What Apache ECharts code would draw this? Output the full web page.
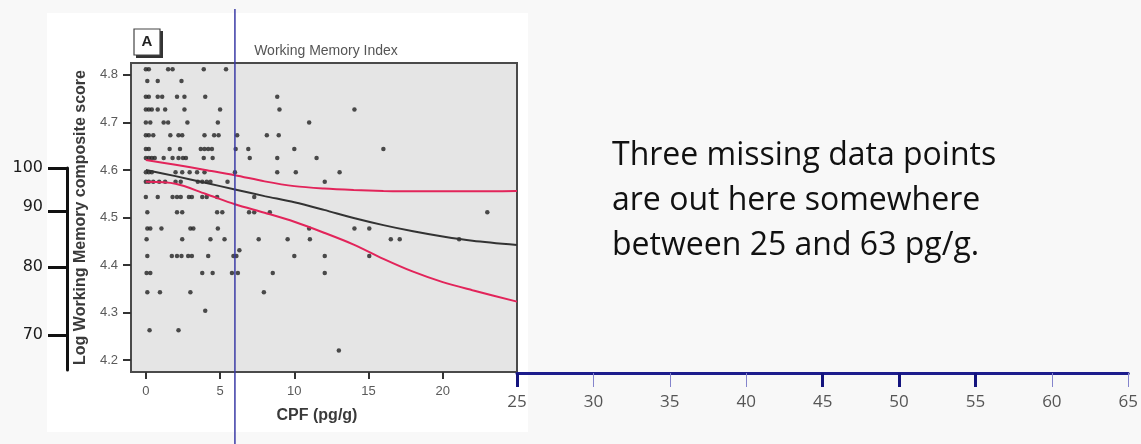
<!DOCTYPE html>
<html>
<head>
<meta charset="utf-8">
<script src="https://cdn.jsdelivr.net/npm/echarts@6/dist/echarts.min.js"></script>
<style>
  html, body { margin: 0; padding: 0; background: #f8f8f8; }
  #wrap { position: relative; width: 1141px; height: 444px; overflow: hidden; }
  #figbg { position: absolute; left: 47px; top: 13px; width: 481px; height: 419px; background: #ffffff; }
  #chart { position: absolute; left: 0; top: 0; width: 1141px; height: 444px; }
</style>
</head>
<body>
<div id="wrap">
  <div id="figbg"></div>
  <div id="chart"></div>
</div>
<script>
// ---- data ----
const logLevels = [4.812, 4.787, 4.754, 4.727, 4.700, 4.673, 4.644, 4.625, 4.595, 4.575,
                   4.543, 4.511, 4.477, 4.454, 4.431, 4.419, 4.383, 4.343, 4.304, 4.263, 4.220];
const cpfAtLevel = [
  [0, 0.2, 1.5, 1.8, 3.9, 5.4],
  [0.1, 0.8, 2.4],
  [0, 0.2, 0.8, 1.1, 2.1, 2.6, 4.0, 8.85],
  [0, 0.2, 0.4, 0.8, 1.3, 2.6, 5.0, 9.0, 14.05],
  [0, 0.3, 1.2, 1.5, 2.8, 4.85, 11.0],
  [0, 0.2, 0.5, 1.65, 2.2, 2.45, 3.95, 4.6, 4.9, 6.15, 8.15, 8.95],
  [0, 0.2, 1.6, 2.3, 3.7, 3.95, 4.2, 4.45, 6.05, 6.9, 10.0, 16.0],
  [0, 0.2, 0.4, 0.6, 1.2, 1.8, 2.2, 2.5, 2.7, 3.9, 4.5, 7.0, 8.85, 11.5],
  [0, 0.2, 0.4, 2.0, 2.45, 2.95, 3.45, 3.95, 6.0, 8.85, 10.1, 13.05],
  [0, 0.2, 0.5, 0.9, 1.3, 2.0, 2.35, 3.5, 3.8, 4.1, 4.35, 5.5, 12.05],
  [0, 0.8, 1.8, 2.1, 2.35, 2.9, 3.1, 3.8, 4.1, 4.8, 7.3],
  [0.1, 2.1, 2.45, 4.8, 5.15, 6.95, 7.3, 8.35, 23.0],
  [0.1, 0.3, 1.05, 3.0, 3.2, 4.85, 11.0, 14.05, 15.05],
  [0.05, 2.45, 4.35, 5.3, 7.6, 9.55, 11.05, 16.5, 17.1, 21.1],
  [6.3],
  [0.1, 1.75, 2.1, 2.4, 2.85, 3.1, 4.2, 5.9, 6.1, 10.0, 12.05, 15.05],
  [0.05, 0.3, 3.8, 4.5, 5.8, 6.2, 8.55, 12.05],
  [0.1, 0.95, 3.0, 7.95],
  [4.0],
  [0.25, 2.2],
  [13.0]
];
const fitX     = [0, 2, 4, 6, 8, 10, 12, 14, 16, 18, 20, 22, 25];
const fitY     = [4.600, 4.587, 4.573, 4.559, 4.545, 4.532, 4.516, 4.499, 4.484, 4.471, 4.460, 4.451, 4.442];
const upperY   = [4.621, 4.611, 4.600, 4.589, 4.576, 4.566, 4.561, 4.558, 4.556, 4.555, 4.555, 4.555, 4.556];
const lowerY   = [4.575, 4.571, 4.550, 4.528, 4.510, 4.491, 4.468, 4.443, 4.413, 4.386, 4.364, 4.347, 4.323];
const xTicksMain = [0, 5, 10, 15, 20];
const yTicksMain = [4.2, 4.3, 4.4, 4.5, 4.6, 4.7, 4.8];
const xTicksExt  = [25, 30, 35, 40, 45, 50, 55, 60, 65];
const xTicksExtBold = [25, 45, 50, 55];
const bracketTicks  = [4.604, 4.514, 4.396, 4.253];
const bracketLabels = ['100', '90', '80', '70'];
const cutoffCPF = [6];
const panelLetter = 'A';
const panelTitle = 'Working Memory Index';
const xTitle = 'CPF (pg/g)';
const yTitle = 'Log Working Memory composite score';
const noteLines = ['Three missing data points', 'are out here somewhere', 'between 25 and 63 pg/g.'];

// ---- build ----
const points = [];
logLevels.forEach((lv, i) => cpfAtLevel[i].forEach(x => points.push([x, lv])));
const pair = ys => fitX.map((x, i) => [x, ys[i]]);

const chart = echarts.init(document.getElementById('chart'), null, { renderer: 'canvas' });
const plotFont = 'Liberation Sans, Arial, sans-serif';

const option = {
  backgroundColor: 'transparent',
  animation: false,
  grid: [
    { left: 131, top: 63, width: 386, height: 309, show: false },
    { left: 517, top: 63, width: 612, height: 310 },
    { left: 131, top: 9, width: 386, height: 435 },
    { left: 67, top: 168, width: 10, height: 202 },
    { left: 131, top: 63, width: 386, height: 309, show: true, backgroundColor: '#e5e5e5',
      borderColor: '#4a4a4a', borderWidth: 2, z: -1 }
  ],
  xAxis: [
    { gridIndex: 0, type: 'value', min: -1, max: 25,
      axisLine: { show: true, onZero: false, lineStyle: { color: '#4a4a4a', width: 2 } }, splitLine: { show: false },
      axisTick: { show: true, inside: false, length: 7, customValues: xTicksMain, lineStyle: { color: '#333', width: 2 } },
      axisLabel: { customValues: xTicksMain, margin: 13, color: '#5a5a5a', fontSize: 13, fontFamily: plotFont },
      name: xTitle, nameLocation: 'middle', nameGap: 36,
      nameTextStyle: { color: '#3a3a3a', fontSize: 16, fontWeight: 'bold', fontFamily: plotFont, padding: [0, 14, 0, 0] } },
    { gridIndex: 1, type: 'value', min: 25, max: 65, position: 'bottom',
      axisLine: { show: true, onZero: false, lineStyle: { color: '#1c1c8c', width: 3 } }, splitLine: { show: false },
      axisTick: { show: true, length: 14, customValues: xTicksExt, lineStyle: { color: '#8484cc', width: 1 } },
      axisLabel: { customValues: xTicksExt, margin: 21, color: '#555', fontSize: 17, fontFamily: 'Open Sans, sans-serif' } },
    { gridIndex: 1, type: 'value', min: 25, max: 65, position: 'bottom',
      axisLine: { show: false, onZero: false }, splitLine: { show: false },
      axisTick: { show: true, length: 14, customValues: xTicksExtBold, lineStyle: { color: '#14147e', width: 3 } },
      axisLabel: { show: false } },
    { gridIndex: 2, type: 'value', min: -1, max: 25, show: false },
    { gridIndex: 3, type: 'value', min: 0, max: 1, show: false },
    { gridIndex: 4, type: 'value', min: 0, max: 1, show: false }
  ],
  yAxis: [
    { gridIndex: 0, type: 'value', min: 4.175, max: 4.825,
      axisLine: { show: true, onZero: false, lineStyle: { color: '#4a4a4a', width: 2 } }, splitLine: { show: false },
      axisTick: { show: true, inside: false, length: 8, customValues: yTicksMain, lineStyle: { color: '#333', width: 2 } },
      axisLabel: { customValues: yTicksMain, margin: 13, color: '#5a5a5a', fontSize: 13, fontFamily: plotFont,
                   formatter: v => v.toFixed(1) },
      name: yTitle, nameLocation: 'middle', nameGap: 42,
      nameTextStyle: { color: '#3a3a3a', fontSize: 16, fontWeight: 'bold', fontFamily: plotFont } },
    { gridIndex: 1, type: 'value', min: 0, max: 1, show: false },
    { gridIndex: 2, type: 'value', min: 0, max: 1, show: false },
    { gridIndex: 3, type: 'value', min: 4.179, max: 4.604, position: 'left',
      axisLine: { show: true, onZero: false, lineStyle: { color: '#111', width: 3 } }, splitLine: { show: false },
      axisTick: { show: true, length: 19, customValues: bracketTicks, lineStyle: { color: '#111', width: 3 } },
      axisLabel: { customValues: bracketTicks, margin: 24, color: '#1a1a1a', fontSize: 16,
                   fontFamily: 'DejaVu Sans, sans-serif',
                   formatter: v => { const i = bracketTicks.indexOf(v); const t = bracketLabels[i];
                                     return t === '90' ? '{up|' + t + '}' : t; },
                   rich: { up: { fontSize: 16, color: '#1a1a1a', fontFamily: 'DejaVu Sans, sans-serif', padding: [0, 0, 8, 0] } } } },
    { gridIndex: 4, type: 'value', min: 0, max: 1, show: false }
  ],
  series: [
    { type: 'scatter', xAxisIndex: 0, yAxisIndex: 0, data: points, symbolSize: 4.5,
      itemStyle: { color: '#222' }, z: 3 },
    { type: 'line', xAxisIndex: 0, yAxisIndex: 0, data: pair(upperY), smooth: 0.3, symbol: 'none',
      lineStyle: { color: '#e2245a', width: 2 }, z: 4 },
    { type: 'line', xAxisIndex: 0, yAxisIndex: 0, data: pair(lowerY), smooth: 0.3, symbol: 'none',
      lineStyle: { color: '#e2245a', width: 2 }, z: 4 },
    { type: 'line', xAxisIndex: 0, yAxisIndex: 0, data: pair(fitY), smooth: 0.3, symbol: 'none',
      lineStyle: { color: '#333333', width: 2 }, z: 5 },
    { type: 'line', xAxisIndex: 3, yAxisIndex: 2, data: [[cutoffCPF[0], 0], [cutoffCPF[0], 1]], symbol: 'none',
      lineStyle: { color: '#3b3ba6', width: 1.5 }, z: 6 }
  ],
  graphic: [
    { type: 'rect', shape: { x: 136, y: 31, width: 27, height: 27 }, style: { fill: '#333' }, z: 10 },
    { type: 'rect', shape: { x: 134, y: 29, width: 26, height: 26 }, style: { fill: '#fff', stroke: '#444', lineWidth: 1.2 }, z: 11 },
    { type: 'text', x: 147, y: 42, style: { text: panelLetter, font: 'bold 15px Liberation Sans, Arial, sans-serif',
      fill: '#222', align: 'center', verticalAlign: 'middle' }, z: 12 },
    { type: 'text', x: 326, y: 51, style: { text: panelTitle, font: '14px Liberation Sans, Arial, sans-serif',
      fill: '#555', align: 'center', verticalAlign: 'middle' }, z: 12 },
    { type: 'text', x: 612, y: 133, style: { text: noteLines.join('\n'), font: '32px Open Sans, sans-serif',
      lineHeight: 45, fill: '#111', align: 'left', verticalAlign: 'top' }, z: 12 }
  ]
};
chart.setOption(option);
</script>
</body>
</html>
